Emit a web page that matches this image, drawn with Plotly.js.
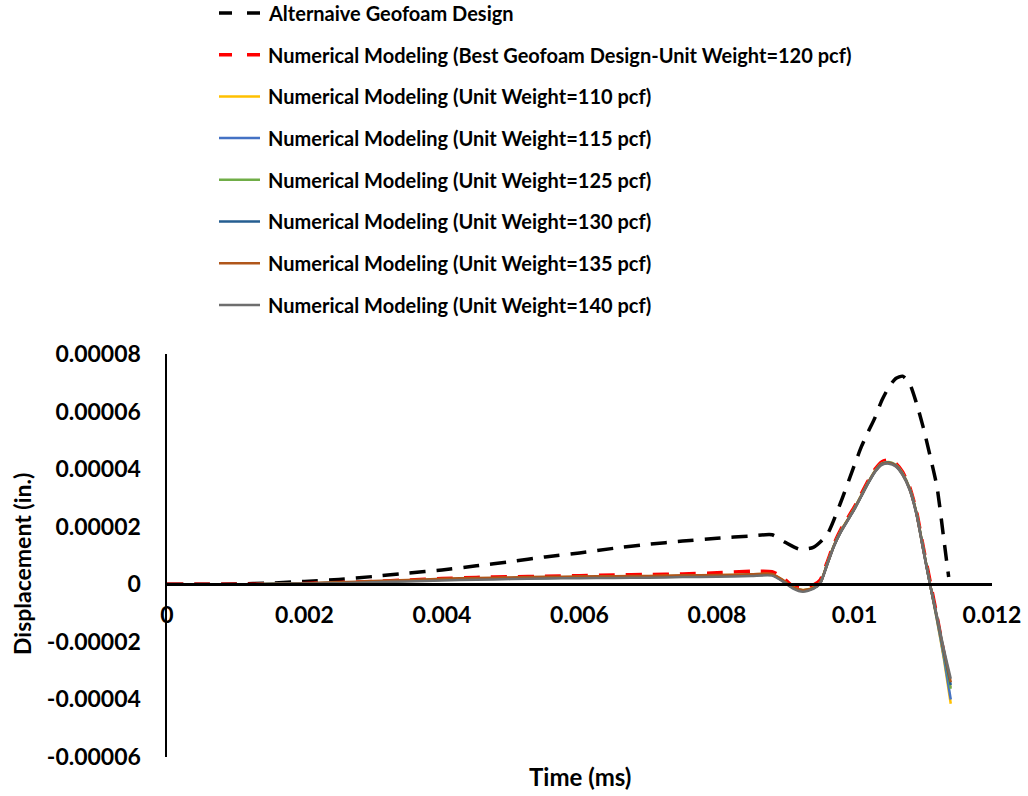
<!DOCTYPE html>
<html>
<head>
<meta charset="utf-8">
<script src="https://cdn.plot.ly/plotly-3.0.1.min.js"></script>
<style>html,body{margin:0;padding:0;background:#fff;}#chart{width:1028px;height:796px;}</style>
</head>
<body>
<div id="chart"></div>
<script>
// ---- Data ----
const seriesNames = [
  "Alternaive Geofoam Design",
  "Numerical Modeling (Best Geofoam Design-Unit Weight=120 pcf)",
  "Numerical Modeling (Unit Weight=110 pcf)",
  "Numerical Modeling (Unit Weight=115 pcf)",
  "Numerical Modeling (Unit Weight=125 pcf)",
  "Numerical Modeling (Unit Weight=130 pcf)",
  "Numerical Modeling (Unit Weight=135 pcf)",
  "Numerical Modeling (Unit Weight=140 pcf)"
];

// Alternative design (time in ms axis units, displacement in in.)
const altTime = [0, 0.0005, 0.001, 0.0015, 0.002, 0.0025, 0.003, 0.0035, 0.004, 0.0045,
  0.005, 0.0055, 0.006, 0.0065, 0.007, 0.0075, 0.008, 0.0085, 0.0088, 0.009,
  0.0092, 0.0094, 0.0096, 0.0098, 0.01, 0.0101, 0.0102, 0.0103, 0.0104, 0.0105,
  0.0106, 0.0107, 0.0108, 0.0109, 0.011, 0.0111, 0.0112, 0.0113, 0.01137];
const altDisp = [0, 0, 0.1e-6, 0.4e-6, 1.0e-6, 1.7e-6, 2.7e-6, 3.9e-6, 5.0e-6, 6.4e-6,
  7.9e-6, 9.5e-6, 10.9e-6, 12.5e-6, 13.9e-6, 15.0e-6, 16.0e-6, 16.8e-6, 17.2e-6, 14.5e-6,
  12.2e-6, 12.8e-6, 17.2e-6, 28.5e-6, 41.5e-6, 47.8e-6, 53e-6, 58e-6, 64e-6, 68.5e-6,
  71.5e-6, 72.3e-6, 69.8e-6, 63e-6, 54.5e-6, 44.5e-6, 33.8e-6, 15.5e-6, 2.5e-6];

// Numerical modeling time (shared)
const numTime = [0, 0.0005, 0.001, 0.0015, 0.002, 0.0025, 0.003, 0.0035, 0.004, 0.0045,
  0.005, 0.0055, 0.006, 0.0065, 0.007, 0.0075, 0.008, 0.0085, 0.0088, 0.00895,
  0.0091, 0.00925, 0.0094, 0.0095, 0.0096, 0.0097, 0.0098, 0.0099, 0.01, 0.0101,
  0.0102, 0.0103, 0.0104, 0.0105, 0.0106, 0.0107, 0.0108, 0.0109, 0.011, 0.0111,
  0.0112, 0.0113, 0.0114];

const disp120 = [0, 0, 0, 0.1e-6, 0.3e-6, 0.6e-6, 1.0e-6, 1.5e-6, 2.0e-6, 2.4e-6,
  2.6e-6, 2.8e-6, 3.0e-6, 3.2e-6, 3.4e-6, 3.6e-6, 4.0e-6, 4.5e-6, 4.4e-6, 2.5e-6,
  -0.6e-6, -1.3e-6, -0.3e-6, 1.5e-6, 7.5e-6, 14e-6, 19e-6, 23e-6, 27e-6, 31.5e-6,
  36e-6, 40e-6, 42.6e-6, 43.2e-6, 42e-6, 39e-6, 34e-6, 25.5e-6, 13e-6, 1e-6,
  -11e-6, -24e-6, -38e-6];
const disp110 = [0, 0, 0, 0.1e-6, 0.3e-6, 0.6e-6, 0.9e-6, 1.3e-6, 1.7e-6, 2.0e-6,
  2.2e-6, 2.4e-6, 2.5e-6, 2.6e-6, 2.8e-6, 2.9e-6, 3.1e-6, 3.4e-6, 3.5e-6, 1.5e-6,
  -1.0e-6, -2.0e-6, -1.2e-6, 0.5e-6, 7e-6, 13.5e-6, 18.5e-6, 22.5e-6, 26.5e-6, 31e-6,
  35.5e-6, 39.5e-6, 42e-6, 42.5e-6, 41.5e-6, 38.5e-6, 33.5e-6, 25e-6, 12.5e-6, 0,
  -12.5e-6, -26e-6, -41.5e-6];
const disp115 = [0, 0, 0, 0.1e-6, 0.3e-6, 0.6e-6, 0.9e-6, 1.3e-6, 1.7e-6, 2.0e-6,
  2.2e-6, 2.3e-6, 2.5e-6, 2.6e-6, 2.7e-6, 2.9e-6, 3.0e-6, 3.3e-6, 3.4e-6, 1.4e-6,
  -1.1e-6, -2.1e-6, -1.3e-6, 0.4e-6, 6.9e-6, 13.4e-6, 18.4e-6, 22.4e-6, 26.4e-6, 30.9e-6,
  35.4e-6, 39.4e-6, 41.9e-6, 42.4e-6, 41.4e-6, 38.4e-6, 33.4e-6, 24.9e-6, 12.4e-6, -0.1e-6,
  -12.3e-6, -25.3e-6, -40e-6];
const disp125 = [0, 0, 0, 0.1e-6, 0.2e-6, 0.5e-6, 0.8e-6, 1.2e-6, 1.6e-6, 1.9e-6,
  2.1e-6, 2.2e-6, 2.4e-6, 2.5e-6, 2.6e-6, 2.8e-6, 2.9e-6, 3.2e-6, 3.3e-6, 1.3e-6,
  -1.2e-6, -2.2e-6, -1.4e-6, 0.3e-6, 6.8e-6, 13.3e-6, 18.3e-6, 22.3e-6, 26.3e-6, 30.8e-6,
  35.3e-6, 39.3e-6, 41.8e-6, 42.3e-6, 41.3e-6, 38.3e-6, 33.3e-6, 24.8e-6, 12.3e-6, -0.1e-6,
  -11.8e-6, -24e-6, -36.3e-6];
const disp130 = [0, 0, 0, 0.1e-6, 0.2e-6, 0.5e-6, 0.8e-6, 1.2e-6, 1.6e-6, 1.9e-6,
  2.1e-6, 2.2e-6, 2.4e-6, 2.5e-6, 2.6e-6, 2.7e-6, 2.9e-6, 3.2e-6, 3.3e-6, 1.3e-6,
  -1.2e-6, -2.3e-6, -1.4e-6, 0.3e-6, 6.7e-6, 13.2e-6, 18.2e-6, 22.2e-6, 26.2e-6, 30.7e-6,
  35.2e-6, 39.2e-6, 41.8e-6, 42.2e-6, 41.2e-6, 38.2e-6, 33.2e-6, 24.7e-6, 12.2e-6, -0.2e-6,
  -11.6e-6, -23.5e-6, -35e-6];
const disp135 = [0, 0, 0, 0.1e-6, 0.3e-6, 0.7e-6, 1.1e-6, 1.5e-6, 1.9e-6, 2.2e-6,
  2.4e-6, 2.6e-6, 2.7e-6, 2.8e-6, 2.9e-6, 3.1e-6, 3.2e-6, 3.5e-6, 3.6e-6, 1.6e-6,
  -1.0e-6, -2.1e-6, -1.3e-6, 0.4e-6, 6.8e-6, 13.3e-6, 18.3e-6, 22.3e-6, 26.3e-6, 30.8e-6,
  35.3e-6, 39.3e-6, 41.7e-6, 42.1e-6, 41.1e-6, 38.1e-6, 33.1e-6, 24.6e-6, 12.1e-6, -0.2e-6,
  -11.4e-6, -23.2e-6, -34e-6];
const disp140 = [0, 0, 0, 0.1e-6, 0.2e-6, 0.4e-6, 0.7e-6, 1.0e-6, 1.3e-6, 1.6e-6,
  1.8e-6, 2.0e-6, 2.1e-6, 2.2e-6, 2.3e-6, 2.5e-6, 2.6e-6, 2.9e-6, 3.0e-6, 1.1e-6,
  -1.4e-6, -2.6e-6, -1.6e-6, 0.2e-6, 6.6e-6, 13.1e-6, 18.1e-6, 22.1e-6, 26.1e-6, 30.6e-6,
  35.1e-6, 39.1e-6, 41.5e-6, 41.9e-6, 40.9e-6, 37.9e-6, 32.9e-6, 24.4e-6, 11.9e-6, -0.3e-6,
  -11.2e-6, -22.6e-6, -32.8e-6];

const xTickVals = [0, 0.002, 0.004, 0.006, 0.008, 0.01, 0.012];
const xTickText = ["0", "0.002", "0.004", "0.006", "0.008", "0.01", "0.012"];
const yTickVals = [-0.00006, -0.00004, -0.00002, 0, 0.00002, 0.00004, 0.00006, 0.00008];
const yTickText = ["-0.00006", "-0.00004", "-0.00002", "0", "0.00002", "0.00004", "0.00006", "0.00008"];

const xTitle = "Time (ms)";
const yTitle = "Displacement (in.)";

// ---- Styling ----
const FONT = "Lato, 'Open Sans', sans-serif";
const colors = ["#000000", "#FF0000", "#FFC000", "#4472C4", "#70AD47", "#255E91", "#B0561A", "#6E6E6E"];
const dashed = [true, true, false, false, false, false, false, false];
const widths = [3.5, 3.5, 2.5, 2.5, 2.5, 2.5, 2.5, 2.5];
const numSeries = [disp120, disp110, disp115, disp125, disp130, disp135, disp140];

const traces = [];
traces.push({
  x: altTime, y: altDisp, type: "scatter", mode: "lines", name: seriesNames[0],
  line: {color: colors[0], width: widths[0], dash: "16px,11px", shape: "spline", smoothing: 0.6}
});
numSeries.forEach((d, i) => {
  const k = i + 1;
  traces.push({
    x: numTime, y: d, type: "scatter", mode: "lines", name: seriesNames[k],
    line: {color: colors[k], width: widths[k], dash: dashed[k] ? "16px,11px" : "solid",
           shape: "spline", smoothing: 0.6}
  });
});

const L = 167, R = 36, T = 354, B = 39;
const plotW = 1028 - L - R, plotH = 796 - T - B;
const px2x = px => (px - L) / plotW;
const py2y = py => (796 - B - py) / plotH;

// Manual legend (entries above the plot, left aligned)
const legTop = 13, legStep = 41.7, legLineX0 = 219, legLineX1 = 260, legTextX = 266;
const shapes = [];
const annotations = [];
seriesNames.forEach((name, i) => {
  const py = legTop + i * legStep;
  shapes.push({
    type: "line", xref: "paper", yref: "paper",
    x0: px2x(legLineX0), x1: px2x(legLineX1), y0: py2y(py), y1: py2y(py),
    line: {color: colors[i], width: dashed[i] ? 3.5 : 2.5, dash: dashed[i] ? "13px,15px" : "solid"}
  });
  annotations.push({
    text: name, xref: "paper", yref: "paper", x: px2x(legTextX), y: py2y(py),
    xanchor: "left", yanchor: "middle", showarrow: false,
    font: {family: FONT, size: 20, color: "#000000", weight: 700}
  });
});
annotations.push(
  {text: xTitle, xref: "paper", yref: "paper", x: 0.5, y: py2y(776),
   xanchor: "center", yanchor: "middle", showarrow: false,
   font: {family: FONT, size: 24, color: "#000000", weight: 700}},
  {text: yTitle, xref: "paper", yref: "paper", x: px2x(22), y: py2y(564),
   xanchor: "center", yanchor: "middle", showarrow: false, textangle: -90,
   font: {family: FONT, size: 23, color: "#000000", weight: 700}}
);

const layout = {
  width: 1028, height: 796,
  margin: {l: L, r: R, t: T, b: B, pad: 0},
  paper_bgcolor: "#ffffff", plot_bgcolor: "#ffffff",
  font: {family: FONT, size: 22, color: "#000000", weight: 700},
  showlegend: false,
  xaxis: {
    range: [0, 0.012], tickvals: xTickVals, ticktext: xTickText,
    anchor: "free", position: 6 / 14,
    showline: true, linecolor: "#000000", linewidth: 2.5,
    showgrid: false, zeroline: false, ticks: "", ticklabelstandoff: 10,
    tickfont: {family: FONT, size: 23, color: "#000000", weight: 700}
  },
  yaxis: {
    range: [-0.00006, 0.00008], tickvals: yTickVals, ticktext: yTickText,
    showline: true, linecolor: "#000000", linewidth: 2.5,
    showgrid: false, zeroline: false, ticks: "", ticklabelstandoff: 19,
    tickfont: {family: FONT, size: 23, color: "#000000", weight: 700}
  },
  shapes: shapes,
  annotations: annotations
};

Plotly.newPlot("chart", traces, layout, {displayModeBar: false, responsive: false, staticPlot: true});
</script>
</body>
</html>
